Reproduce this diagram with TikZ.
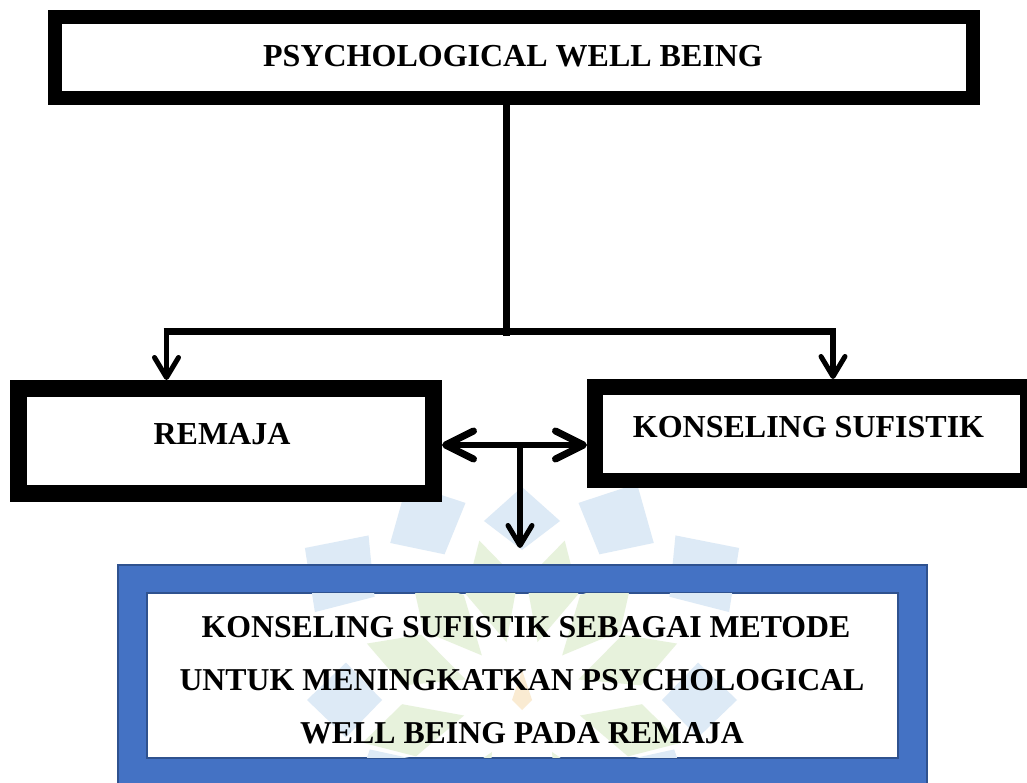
\documentclass[tikz,border=0pt]{standalone}
\usepackage{fontspec}
\setmainfont{Liberation Serif}
\usetikzlibrary{arrows.meta,calc}
\definecolor{boxblue}{HTML}{4472C4}
\definecolor{edgeblue}{HTML}{2F528F}
\definecolor{wmblue}{HTML}{DDEAF6}
\definecolor{wmgreen}{HTML}{E7F2DC}
\definecolor{wmorange}{HTML}{FAEBD2}
\newcommand\wmarkdraw{%
  \foreach \a/\ra/\rb/\rc in {90/150/183/213,62/165/205/245,118/165/205/245,35/180/225/265,145/180/225/265,0/140/180/215,180/140/180/215,-30/120/160/195,210/120/160/195}{%
    \fill[wmblue] ($(wc)+(-\a:\ra)$) -- ($(wc)+(-\a+12:\rb)$) -- ($(wc)+(-\a:\rc)$) -- ($(wc)+(-\a-12:\rb)$) -- cycle;}
  \foreach \a in {75,105,48,132,20,160,-15,195,-60,240}{%
    \fill[wmgreen] ($(wc)+(-\a:60)$) -- ($(wc)+(-\a+13:120)$) -- ($(wc)+(-\a:165)$) -- ($(wc)+(-\a-13:120)$) -- cycle;}
  \fill[wmorange] ($(wc)+(0,-30)$) -- ($(wc)+(10,0)$) -- ($(wc)+(0,10)$) -- ($(wc)+(-10,0)$) -- cycle;
}
\begin{document}
\begin{tikzpicture}[x=1pt,y=-1pt,
  lbl/.style={font=\fontsize{32}{38}\selectfont\bfseries, inner sep=0pt, anchor=base},
  blbl/.style={font=\fontsize{31.8}{38}\selectfont\bfseries, inner sep=0pt, anchor=base},
  thickbox/.style={draw=black, fill=white, inner sep=0pt},
  conn/.style={line width=7pt},
  downarrow/.style={line width=5.5pt, -{Straight Barb[length=20pt,width=24pt,line width=5pt,round]}},
  dblarrow/.style={line width=6.5pt, {Straight Barb[length=28pt,width=28pt,line width=7pt,round]}-{Straight Barb[length=28pt,width=28pt,line width=7pt,round]}}
]
\useasboundingbox (0,0) rectangle (1027,783);
\fill[white] (0,0) rectangle (1027,783);
\coordinate (wc) at (522,700);
% watermark above the blue frame
\begin{scope}
  \clip (0,440) rectangle (1027,565);
  \wmarkdraw
\end{scope}

% top box
\node[thickbox, line width=14pt, minimum width=918pt, minimum height=81pt] (pwb) at (514,57.5) {};
\node[lbl] (pwbtxt) at (513,66.5) {PSYCHOLOGICAL WELL BEING};

% lower boxes
\node[thickbox, line width=17pt, minimum width=415pt, minimum height=105pt] (remaja) at (226,441) {};
\node[lbl] (remajatxt) at (222,444.5) {REMAJA};
\node[thickbox, line width=15.5pt, minimum width=432.5pt, minimum height=93.5pt] (ksuf) at (811,433.5) {};
\node[lbl] (ksuftxt) at (808.5,437.5) {KONSELING SUFISTIK};

% blue result box
\node[fill=boxblue, draw=edgeblue, line width=1.5pt, inner sep=0pt, minimum width=809pt, minimum height=222pt] (frame) at (522.5,676) {};
\node[fill=white, draw=edgeblue, line width=1.5pt, inner sep=0pt, minimum width=751pt, minimum height=165pt] (inner) at (522.5,675.5) {};
\begin{scope}
  \clip ([xshift=1pt,yshift=-1pt]inner.north west) rectangle ([xshift=-1pt,yshift=1pt]inner.south east);
  \wmarkdraw
\end{scope}
\node[blbl] (l1) at (526,637.5) {KONSELING SUFISTIK SEBAGAI METODE};
\node[blbl] (l2) at (522,690.5) {UNTUK MENINGKATKAN PSYCHOLOGICAL};
\node[blbl] (l3) at (522,743.5) {WELL BEING PADA REMAJA};

% connectors
\coordinate (j) at (506,331);
\coordinate (jb) at (506,336);
\coordinate (jl) at (166.5,331);
\coordinate (jlx) at (163.5,331);
\coordinate (jr) at (833,331);
\coordinate (jrx) at (836,331);
\draw[conn] (pwb.south -| j) -- (jb);
\draw[conn] (jlx) -- (jrx);
\draw[downarrow] (jl) -- (jl |- remaja.north);
\draw[downarrow] (jr) -- (jr |- ksuf.north);
\coordinate (m) at (520,445);
\coordinate (mt) at (520,548);
\draw[dblarrow] (m -| remaja.east) -- (m -| ksuf.west);
\draw[downarrow] (m) -- (mt);
\end{tikzpicture}
\end{document}
